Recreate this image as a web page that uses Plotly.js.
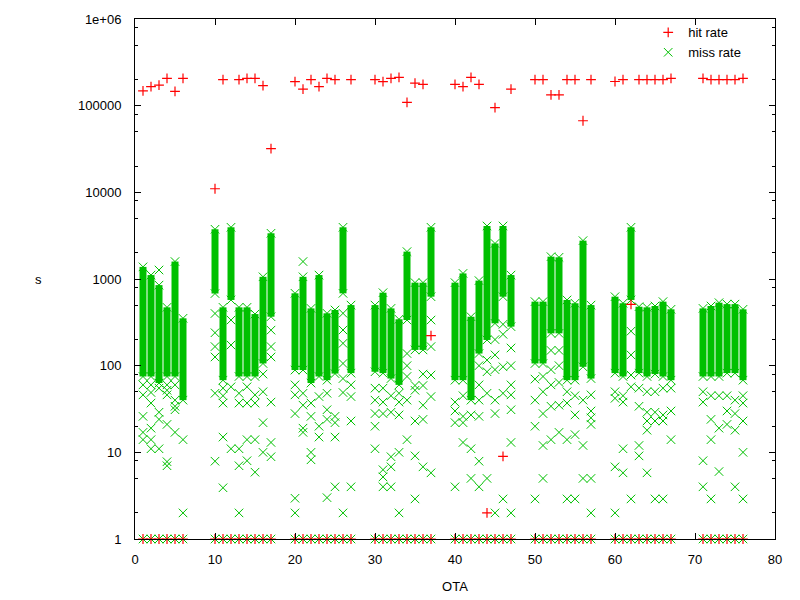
<!DOCTYPE html>
<html>
<head>
<meta charset="utf-8">
<script src="https://cdn.plot.ly/plotly-3.0.1.min.js"></script>
<style>
  html, body { margin: 0; padding: 0; background: #fff; }
  #chart { width: 800px; height: 600px; }
</style>
</head>
<body>
<div id="chart"></div>
<script>
// OTA numbers that have data
const otas = [1, 2, 3, 4, 5, 6, 10, 11, 12, 13, 14, 15, 16, 17, 20, 21, 22, 23, 24, 25, 26, 27,
  30, 31, 32, 33, 34, 35, 36, 37, 40, 41, 42, 43, 44, 45, 46, 47, 50, 51, 52, 53, 54, 55, 56, 57,
  60, 61, 62, 63, 64, 65, 66, 67, 71, 72, 73, 74, 75, 76];

// hit rate: upper point per OTA (null = none), every OTA also has a point at 1
const hitTop = [148000, 166000, 173000, 207000, 146000, 207000, 11000, 200000, null, 200000, 207000, 207000, 170000, 32000,
  189000, 155000, 200000, 166000, 207000, 200000, null, 200000,
  200000, 189000, 207000, 212000, 109000, 182000, 176000, 222,
  176000, 166000, 212000, 176000, 2, 95000, 9, 155000,
  200000, 200000, 133000, 133000, 200000, 200000, 67000, 200000,
  190000, 200000, 510, 200000, 200000, 200000, 200000, 207000,
  207000, 200000, 200000, 200000, 200000, 207000];
const hitFloor = 1;

// miss rate: dense band (top, bottom) per OTA
const missHigh = [1380, 1110, 850, 471, 1590, 352, 3750, 471, 3950, 471, 471, 394, 1060, 3370,
  684, 1060, 458, 1110, 402, 439, 3950, 500,
  500, 695, 458, 343, 2070, 907, 907, 3950,
  907, 1160, 367, 958, 4090, 2570, 4090, 1110,
  548, 548, 1810, 1780, 573, 525, 2770, 500,
  625, 525, 3950, 479, 471, 488, 548, 447,
  458, 488, 533, 513, 513, 447];
const missLow = [75, 75, 63, 75, 75, 40, 680, 68, 573, 75, 75, 75, 106, 367,
  89, 89, 63, 75, 68, 81, 683, 82,
  85, 82, 71, 60, 336, 152, 152, 625,
  68, 68, 40, 138, 198, 308, 625, 282,
  106, 106, 236, 236, 68, 68, 97, 71,
  82, 75, 573, 82, 75, 80, 75, 68,
  75, 75, 75, 82, 82, 68];
// miss rate: scattered points below / outside the band
const missSparse = [
  [60, 46, 26, 17, 14, 1], [60, 49, 37, 19, 14, 11, 1], [1270, 55, 29, 24, 11, 1], [60, 52, 46, 21, 7.8, 7, 1],
  [60, 40, 34, 31, 17, 1], [14, 2, 1],
  [400, 240, 166, 126, 48, 7.9, 1], [55, 45, 37, 15, 3.9, 1], [336, 173, 57, 11, 1], [48, 37, 11, 7, 2, 1],
  [57, 37, 14, 8, 1], [46, 37, 14, 5.9, 1], [80, 50, 22, 10, 1], [257, 166, 126, 38, 13, 8.9, 1],
  [60, 46, 28, 2.95, 2, 1], [1590, 48, 35, 19, 17, 1], [37, 26, 10, 8.2, 1], [44, 20, 15, 1],
  [48, 31, 24, 3, 1], [26, 22, 15, 4, 1], [402, 258, 181, 106, 71, 49, 2, 1], [60, 44, 23, 4, 1],
  [55, 40, 28, 20, 11, 1], [55, 38, 28, 6.3, 5.2, 4, 1], [45, 29, 8.9, 6.8, 4, 1], [48, 38, 27, 10, 2, 1],
  [138, 100, 75, 40, 14, 1], [59, 52, 23, 9.1, 2.9, 1], [80, 59, 35, 24, 6.8, 1], [336, 166, 78, 44, 5.8, 1],
  [38, 30, 22, 4, 1], [45, 26, 22, 13, 1], [27, 11, 5, 1], [100, 60, 40, 26, 7.9, 4, 1],
  [116, 85, 48, 5, 1], [200, 133, 90, 40, 28, 2, 1], [300, 230, 97, 48, 2.9, 1], [160, 100, 60, 46, 31, 13, 2, 1],
  [70, 40, 20, 2.9, 1], [75, 50, 28, 12, 5, 1], [150, 90, 60, 34, 14, 1], [150, 100, 64, 35, 17, 1],
  [50, 37, 14, 2.9, 1], [45, 27, 16, 2.9, 1], [40, 12, 5, 1], [46, 30, 25, 21, 5, 2, 1],
  [50, 42, 6.8, 2, 1], [45, 38, 11, 5.8, 1], [250, 133, 78, 57, 2.9, 1], [55, 34, 12, 9.1, 1],
  [50, 29, 23, 18, 5.8, 1], [50, 29, 23, 2.9, 1], [55, 27, 23, 2.9, 1], [55, 30, 14, 1],
  [50, 38, 8, 4, 1], [45, 24, 14, 2.9, 1], [45, 19, 6, 1], [45, 30, 21, 1],
  [40, 28, 18, 4, 1], [45, 37, 23, 10, 2.9, 1]];

const yTickVals = [1, 10, 100, 1000, 10000, 100000, 1000000];
const yTickText = ["1", "10", "100", "1000", "10000", "100000", "1e+06"];
const yMinorVals = [2, 5, 8, 20, 50, 80, 200, 500, 800, 2000, 5000, 8000, 20000, 50000, 80000, 200000, 500000, 800000];

const red = "#ff0000", green = "#00c000";
const font = { family: "Liberation Sans, Arial, sans-serif", size: 13, color: "#000" };

const bandX = [], bandY = [];
const missX = [], missY = [];
const hitX = [], hitY = [];
otas.forEach((k, i) => {
  bandX.push(k, k, null);
  bandY.push(missHigh[i], missLow[i], null);
  missX.push(k, k);
  missY.push(missHigh[i], missLow[i]);
  missSparse[i].forEach((v) => { missX.push(k); missY.push(v); });
  if (hitTop[i] !== null) { hitX.push(k); hitY.push(hitTop[i]); }
  hitX.push(k); hitY.push(hitFloor);
});

const traces = [
  {
    x: bandX, y: bandY, type: "scatter", mode: "lines",
    line: { color: green, width: 7 }, showlegend: false, hoverinfo: "skip",
  },
  {
    x: missX, y: missY, type: "scatter", mode: "markers", name: "miss rate", legendrank: 2,
    marker: { symbol: "x-thin-open", size: 8.5, color: green, line: { color: green, width: 1 } },
    cliponaxis: false,
  },
  {
    x: hitX, y: hitY, type: "scatter", mode: "markers", name: "hit rate", legendrank: 1,
    marker: { symbol: "cross-thin-open", size: 7, color: red, line: { color: red, width: 1.2 } },
    cliponaxis: false,
  },
];

const layout = {
  width: 800, height: 600,
  margin: { l: 135, r: 25, t: 19, b: 61 },
  paper_bgcolor: "#fff", plot_bgcolor: "#fff",
  font: font,
  showlegend: true,
  legend: { x: 0.955, y: 1.003, xanchor: "right", yanchor: "top", bgcolor: "rgba(0,0,0,0)", font: font, tracegroupgap: 0 },
  xaxis: {
    range: [0, 80], dtick: 10, tick0: 0, showgrid: false, zeroline: false,
    showline: true, mirror: "ticks", linecolor: "#000", linewidth: 1,
    ticks: "inside", ticklen: 6, tickcolor: "#000", ticklabelstandoff: 8,
    title: { text: "OTA", font: font, standoff: 16 },
  },
  yaxis: {
    type: "log", range: [0, 6], showgrid: false, zeroline: false,
    showline: true, mirror: "ticks", linecolor: "#000", linewidth: 1,
    ticks: "inside", ticklen: 6, tickcolor: "#000", ticklabelstandoff: 10,
    tickmode: "array", tickvals: yTickVals, ticktext: yTickText,
    minor: { tickmode: "array", tickvals: yMinorVals, ticks: "inside", ticklen: 3, tickcolor: "#000", showgrid: false },
  },
  annotations: [
    { text: "s", xref: "paper", yref: "paper", x: -0.159, y: 0.5, showarrow: false, font: font },
  ],
};

Plotly.newPlot("chart", traces, layout, { displayModeBar: false, staticPlot: true });
</script>
</body>
</html>
